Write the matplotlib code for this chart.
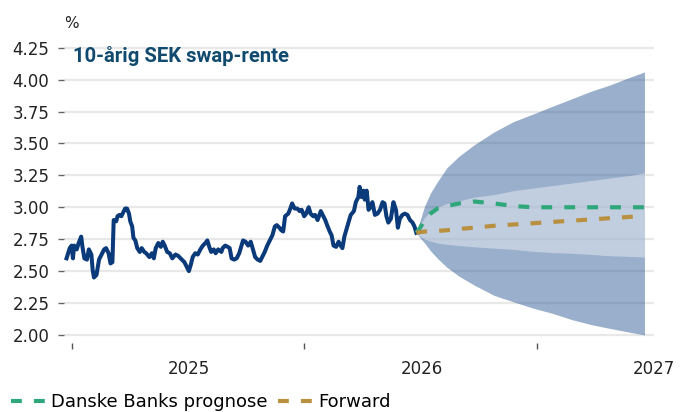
import numpy as np
import pandas as pd
import matplotlib
matplotlib.use("Agg")
import matplotlib.pyplot as plt
import matplotlib.dates as mdates

# historical 10y SEK swap rate
hist_dates = [
    "2024-06-23", "2024-06-28", "2024-07-01", "2024-07-03", "2024-07-05", "2024-07-09",
    "2024-07-12", "2024-07-16", "2024-07-18", "2024-07-21", "2024-07-25", "2024-07-28",
    "2024-08-01", "2024-08-03", "2024-08-05", "2024-08-09", "2024-08-13", "2024-08-17",
    "2024-08-21", "2024-08-24", "2024-08-28", "2024-08-31", "2024-09-03", "2024-09-05",
    "2024-09-09", "2024-09-11", "2024-09-14", "2024-09-17", "2024-09-19", "2024-09-23",
    "2024-09-26", "2024-09-29", "2024-10-01", "2024-10-04", "2024-10-06", "2024-10-09",
    "2024-10-12", "2024-10-16", "2024-10-19", "2024-10-23", "2024-10-26", "2024-10-31",
    "2024-11-04", "2024-11-07", "2024-11-10", "2024-11-14", "2024-11-18", "2024-11-21",
    "2024-11-24", "2024-11-28", "2024-12-02", "2024-12-06", "2024-12-11", "2024-12-15",
    "2024-12-21", "2024-12-25", "2024-12-29", "2025-01-01", "2025-01-04", "2025-01-07",
    "2025-01-11", "2025-01-15", "2025-01-19", "2025-01-23", "2025-01-27", "2025-01-30",
    "2025-02-02", "2025-02-05", "2025-02-09", "2025-02-12", "2025-02-16", "2025-02-21",
    "2025-02-23", "2025-02-27", "2025-03-03", "2025-03-06", "2025-03-09", "2025-03-13",
    "2025-03-17", "2025-03-21", "2025-03-24", "2025-03-27", "2025-03-31", "2025-04-04",
    "2025-04-08", "2025-04-11", "2025-04-15", "2025-04-19", "2025-04-23", "2025-04-26",
    "2025-04-30", "2025-05-04", "2025-05-08", "2025-05-12", "2025-05-16", "2025-05-19",
    "2025-05-23", "2025-05-26", "2025-05-29", "2025-06-01", "2025-06-06", "2025-06-10",
    "2025-06-12", "2025-06-16", "2025-06-20", "2025-06-24", "2025-06-27", "2025-07-01",
    "2025-07-04", "2025-07-08", "2025-07-11", "2025-07-15", "2025-07-18", "2025-07-22",
    "2025-07-27", "2025-07-30", "2025-08-03", "2025-08-06", "2025-08-10", "2025-08-13",
    "2025-08-16", "2025-08-20", "2025-08-24", "2025-08-27", "2025-08-30", "2025-09-02",
    "2025-09-06", "2025-09-09", "2025-09-12", "2025-09-17", "2025-09-20", "2025-09-24",
    "2025-09-26", "2025-09-29", "2025-10-02", "2025-10-04", "2025-10-07", "2025-10-10",
    "2025-10-13", "2025-10-16", "2025-10-20", "2025-10-24", "2025-10-28", "2025-11-01",
    "2025-11-04", "2025-11-07", "2025-11-10", "2025-11-14", "2025-11-18", "2025-11-22",
    "2025-11-25", "2025-11-28", "2025-12-02", "2025-12-06", "2025-12-10", "2025-12-14",
    "2025-12-18", "2025-12-21", "2025-12-24",
]
hist_values = [
    2.60, 2.68, 2.70, 2.60, 2.70, 2.67,
    2.72, 2.77, 2.69, 2.60, 2.59, 2.67,
    2.63, 2.51, 2.45, 2.47, 2.59, 2.63,
    2.67, 2.68, 2.64, 2.56, 2.57, 2.90,
    2.89, 2.93, 2.94, 2.93, 2.95, 2.99,
    2.99, 2.95, 2.89, 2.85, 2.76, 2.74,
    2.68, 2.65, 2.68, 2.65, 2.64, 2.61,
    2.64, 2.60, 2.68, 2.72, 2.69, 2.73,
    2.70, 2.65, 2.64, 2.60, 2.63, 2.62,
    2.59, 2.57, 2.53, 2.50, 2.55, 2.61,
    2.64, 2.63, 2.67, 2.70, 2.72, 2.74,
    2.69, 2.65, 2.67, 2.64, 2.67, 2.65,
    2.68, 2.70, 2.69, 2.68, 2.60, 2.59,
    2.60, 2.64, 2.69, 2.74, 2.73, 2.70,
    2.73, 2.68, 2.61, 2.59, 2.58, 2.61,
    2.65, 2.70, 2.74, 2.78, 2.85, 2.86,
    2.84, 2.82, 2.81, 2.93, 2.95, 3.00,
    3.03, 2.99, 2.99, 2.97, 2.98, 2.93,
    2.95, 3.00, 2.95, 2.93, 2.94, 2.90,
    2.97, 2.94, 2.90, 2.86, 2.81, 2.78,
    2.70, 2.69, 2.73, 2.70, 2.68, 2.77,
    2.84, 2.89, 2.94, 2.97, 3.04, 3.08,
    3.16, 3.08, 3.13, 3.06, 3.13, 2.98,
    3.00, 3.04, 2.94, 2.95, 2.98, 3.04,
    3.03, 2.93, 2.88, 2.91, 3.04, 2.98,
    2.84, 2.91, 2.94, 2.95, 2.94, 2.90,
    2.88, 2.85, 2.80,
]

# forecast horizon
fc_dates = ["2025-12-24", "2025-12-30", "2026-01-06", "2026-01-15", "2026-01-26",
            "2026-02-10", "2026-03-01", "2026-03-25", "2026-04-25", "2026-05-25",
            "2026-06-25", "2026-07-25", "2026-08-25", "2026-09-25", "2026-10-25",
            "2026-11-25", "2026-12-17"]
outer_hi = [2.80, 2.90, 3.01, 3.11, 3.20, 3.31, 3.40, 3.49, 3.59, 3.67, 3.73, 3.79,
            3.85, 3.91, 3.96, 4.02, 4.06]
outer_lo = [2.80, 2.76, 2.72, 2.66, 2.60, 2.53, 2.46, 2.39, 2.31, 2.26, 2.21, 2.17,
            2.12, 2.08, 2.05, 2.02, 2.00]
inner_hi = [2.80, 2.86, 2.92, 2.97, 3.00, 3.03, 3.05, 3.08, 3.10, 3.13, 3.15, 3.17,
            3.19, 3.21, 3.23, 3.25, 3.27]
inner_lo = [2.80, 2.77, 2.75, 2.735, 2.72, 2.71, 2.70, 2.69, 2.68, 2.67, 2.655, 2.645,
            2.64, 2.63, 2.62, 2.615, 2.61]
danske = [2.80, 2.84, 2.90, 2.95, 2.99, 3.01, 3.03, 3.045, 3.03, 3.01, 3.00, 3.00,
          3.00, 3.00, 3.00, 3.00, 3.00]
forward = [2.80, 2.805, 2.81, 2.81, 2.815, 2.82, 2.83, 2.84, 2.855, 2.865, 2.875, 2.885,
           2.895, 2.905, 2.915, 2.925, 2.93]

yticks = [2.00, 2.25, 2.50, 2.75, 3.00, 3.25, 3.50, 3.75, 4.00, 4.25]
year_labels = ["2025", "2026", "2027"]

hd = pd.to_datetime(hist_dates)
fd = pd.to_datetime(fc_dates)

navy = "#0b3a7a"
green = "#2ea77a"
gold = "#b8903f"
fs = 12

fig = plt.figure(figsize=(6.91, 4.12), dpi=100)
ax = fig.add_axes([0.0926, 0.1675, 0.8539, 0.7323])

# fan chart
ax.fill_between(fd, outer_lo, outer_hi, color="#35609a", alpha=0.5, lw=0, zorder=2)
ax.fill_between(fd, inner_lo, inner_hi, color="white", alpha=0.39, lw=0, zorder=3)

ax.plot(hd, hist_values, color=navy, lw=2.9, solid_joinstyle="round", zorder=5)
ld, = ax.plot(fd, danske, color=green, lw=3, dashes=(2.6, 2.9), dash_capstyle="butt", zorder=6)
lf, = ax.plot(fd, forward, color=gold, lw=3, dashes=(2.6, 2.9), dash_capstyle="butt", zorder=6)

ax.set_xlim(pd.Timestamp("2024-06-19"), pd.Timestamp("2026-12-26"))
ax.set_ylim(1.937, 4.30)

ax.set_yticks(yticks)
ax.set_yticklabels(["%.2f" % v for v in yticks])
ax.yaxis.grid(True, color="#e8e8e8", lw=1.6)
ax.set_axisbelow(True)

ax.set_xticks(pd.to_datetime([y + "-01-01" for y in year_labels]))
ax.set_xticklabels(year_labels)
ax.xaxis.set_minor_locator(mdates.MonthLocator(bymonth=7, bymonthday=1))
ax.tick_params(axis="x", which="major", length=0, pad=12, labelsize=fs, colors="#222222")
ax.tick_params(axis="x", which="minor", length=4.5, width=1, color="#555555")
ax.tick_params(axis="y", length=4, width=1, color="#666666", pad=6.5, labelsize=fs,
               labelcolor="#222222")
for s in ax.spines.values():
    s.set_visible(False)

fig.text(64 / 691, 1 - 28 / 412, "%", fontsize=11, color="#222222", va="baseline")
fig.text(73 / 691, 1 - 62 / 412, "10-årig SEK swap-rente", fontsize=14.6, fontweight="bold",
         family=["Roboto", "DejaVu Sans"], color="#114a6f", va="baseline")

leg = fig.legend([ld, lf], ["Danske Banks prognose", "Forward"], loc="center left",
                 bbox_to_anchor=(0.016, 0.024), ncol=2, frameon=False, fontsize=13,
                 handlelength=1.9, handletextpad=0.3, columnspacing=0.6, borderpad=0,
                 borderaxespad=0)

plt.savefig("out.png", dpi=100)
